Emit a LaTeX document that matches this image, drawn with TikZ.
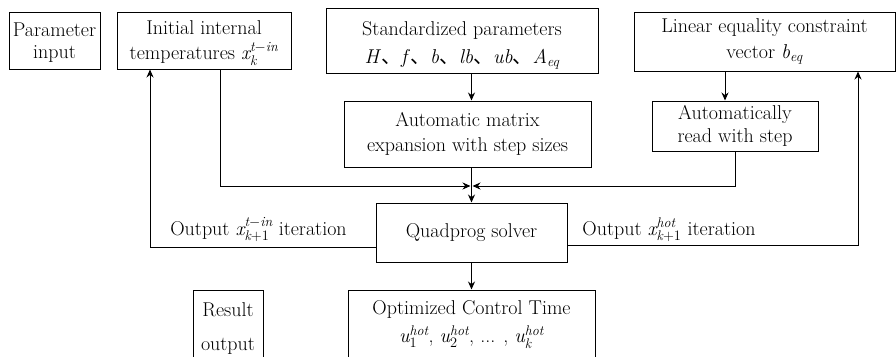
\documentclass[tikz,border=0pt]{standalone}
\usepackage{fontspec}
\usepackage{amsmath}
\newfontfamily\cjk{Noto Sans CJK SC}
\usetikzlibrary{arrows.meta,calc}
% italic letters inside math, in the text face
\newcommand\vi[1]{\text{\itshape #1}}
% ideographic enumeration comma
\newcommand\dun{{\cjk 、}}
% invisible strut that raises the top of a line
\newcommand\lift[1]{\rule{0pt}{#1pt}}
\begin{document}
\begin{tikzpicture}[x=1pt,y=-1pt,
  font=\fontsize{20pt}{22pt}\selectfont,
  box/.style={draw, line width=1pt, inner sep=0pt, align=center},
  link/.style={line width=1pt},
  arr/.style={link, -{Stealth[length=8pt,width=7pt]}}]
\clip (0,0) rectangle (896,356);

% top row
\node[box, minimum width=91, minimum height=57] (pin) at (54.5,40.5)
  {\lift{18}Parameter\\input};
\node[box, minimum width=174, minimum height=57] (init) at (204,40.5)
  {\lift{20}Initial internal\\[3pt]temperatures $\vi{x}_{\vi{k}}^{\vi{t}-\vi{in}}$};
\node[box, minimum width=272, minimum height=65] (std) at (462,40.5)
  {\lift{23}Standardized parameters\\[6pt]
   \textit{H}\dun\textit{f}\dun\textit{b}\dun\textit{lb}\dun\textit{ub}\dun$\vi{A}_{\vi{eq}}$};
\node[box, minimum width=261, minimum height=59] (lin) at (764.5,41.5)
  {Linear equality constraint\\[4pt]vector $\vi{b}_{\vi{eq}}$};

% second row
\node[box, minimum width=247, minimum height=66] (amat) at (467.5,134)
  {Automatic matrix\\[3pt]expansion with step sizes};
\node[box, minimum width=166, minimum height=50] (aread) at (735,126)
  {Automatically\\[1pt]read with step};

% solver
\node[box, minimum width=191, minimum height=59] (qp) at (471.5,232.5)
  {Quadprog solver};

% bottom row
\node[box, minimum width=70, minimum height=78] (res) at (228,329)
  {Result\\[12pt]output};
\node[box, minimum width=247, minimum height=69] (opt) at (471.5,324.5)
  {Optimized Control Time\\[6pt]
   $\vi{u}_{1}^{\vi{hot}}$, $\vi{u}_{2}^{\vi{hot}}$, ... , $\vi{u}_{\vi{k}}^{\vi{hot}}$};

% merge point above the solver
\coordinate (m) at (471.5,186);

\draw[arr] (std.south -| qp) -- (amat.north -| qp);
\draw[link] (amat.south -| m) -- (m);
\draw[arr] (m) -- (qp.north);
\draw[arr] ([xshift=16pt]init.south) |- ([xshift=-1pt]m);
\draw[arr] (aread.south) |- ([xshift=1pt]m);
\draw[arr] ([xshift=-39.5pt]lin.south) coordinate (t) -- (t |- aread.north);

% feedback of the solver outputs
\draw[arr] ([yshift=-14.5pt]qp.west) -| ([xshift=-54pt]init.south);
\draw[arr] ([yshift=-12.5pt]qp.east) -| ([xshift=93.5pt]lin.south);
\draw[arr] (qp.south) -- (opt.north);

\node[anchor=base] (outl) at (258.5,235)
  {Output $\vi{x}_{\vi{k}+1}^{\vi{t}-\vi{in}}$ iteration};
\node[anchor=base] (outr) at (669,235)
  {Output $\vi{x}_{\vi{k}+1}^{\vi{hot}}$ iteration};
\end{tikzpicture}
\end{document}
